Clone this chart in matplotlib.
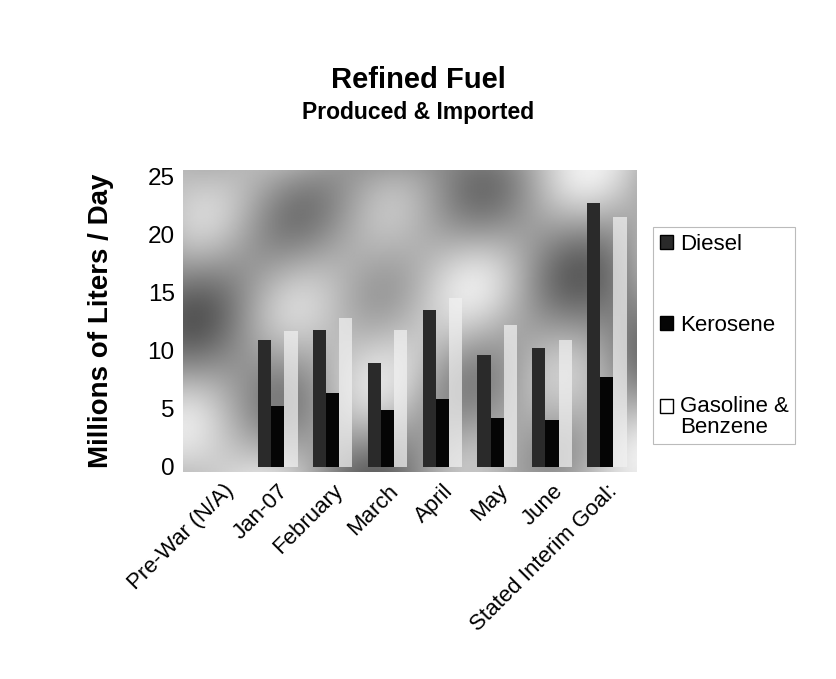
import matplotlib
matplotlib.use("Agg")
import matplotlib.pyplot as plt
import numpy as np
from matplotlib.patches import Patch

plt.rcParams['font.family'] = ['Liberation Sans', 'DejaVu Sans']

categories = ["Pre-War (N/A)", "Jan-07", "February", "March", "April",
              "May", "June", "Stated Interim Goal:"]
diesel = [0, 10.9, 11.8, 8.9, 13.5, 9.6, 10.2, 22.7]
kerosene = [0, 5.2, 6.4, 4.9, 5.8, 4.2, 4.0, 7.7]
gasoline = [0, 11.7, 12.8, 11.8, 14.5, 12.2, 10.9, 21.5]
series_names = ["Diesel", "Kerosene", "Gasoline &\nBenzene"]
y_ticks = [0, 5, 10, 15, 20, 25]

fig = plt.figure(figsize=(8.37, 6.79), dpi=100)
ax = fig.add_axes([183/837, 1-472/679, (637-183)/837, (472-170)/679])

xmin, xmax, ymin, ymax = -0.73, 7.55, -0.43, 25.52
# decorative cloudy-sky backdrop (smooth deterministic texture)
gx, gy = np.meshgrid(np.linspace(0, 1, 300), np.linspace(0, 1, 200))
sky = (0.55 + 0.18 * np.sin(7 * gx + 1.3) * np.cos(5 * gy + 0.4)
       + 0.12 * np.sin(13 * gx + 9 * gy) + 0.10 * np.cos(17 * gx - 11 * gy + 2)
       - 0.10 * np.exp(-((gx - 0.5) ** 2 / 0.05 + (gy - 0.85) ** 2 / 0.03)))
ax.imshow(sky, extent=[xmin, xmax, ymin, ymax], origin='lower', cmap='gray',
          vmin=-0.25, vmax=0.95, aspect='auto', zorder=0, interpolation='bilinear')

x = np.arange(len(categories))
w = 0.24
ax.bar(x - 0.24, diesel, w, color='#2a2a2a', edgecolor='none', zorder=3)
ax.bar(x, kerosene, w, color='#050505', edgecolor='none', zorder=3)
ax.bar(x + 0.24, gasoline, w, color='#f2f2f2', edgecolor='none', alpha=0.7, zorder=3)

ax.set_xlim(xmin, xmax)
ax.set_ylim(ymin, ymax)
ax.set_yticks(y_ticks)
ax.set_yticklabels([str(t) for t in y_ticks], fontsize=17.5)
ax.set_xticks(x)
ax.set_xticklabels(categories, rotation=45, ha='right', rotation_mode='anchor', fontsize=16)
ax.tick_params(axis='both', length=0, pad=6)
for s in ax.spines.values():
    s.set_visible(False)

ax.set_ylabel("Millions of Liters / Day", fontsize=20, fontweight='bold', labelpad=24)

fig.text(0.5, 1-80/679, "Refined Fuel", ha='center', va='center', fontsize=21, fontweight='bold')
fig.text(0.5, 1-113/679, "Produced & Imported", ha='center', va='center', fontsize=16.5, fontweight='bold')

handles = [Patch(facecolor='#2a2a2a', edgecolor='#000000'),
           Patch(facecolor='#050505', edgecolor='#000000'),
           Patch(facecolor='white', edgecolor='#000000')]
leg = fig.legend(handles, series_names, loc='upper left', bbox_to_anchor=(642/837, 1-216/679),
                 fontsize=16, frameon=True, labelspacing=2.7, handlelength=0.6, handleheight=0.6,
                 handletextpad=0.3, borderpad=0.3, fancybox=False)
leg.get_frame().set_edgecolor('#aaaaaa')
leg.get_frame().set_linewidth(0.8)
for t in leg.get_texts():
    t.set_linespacing(1.0)
r = leg.legend_handles[2]
r.set_y(r.get_y() + 8)

fig.savefig("out.png", dpi=100)
